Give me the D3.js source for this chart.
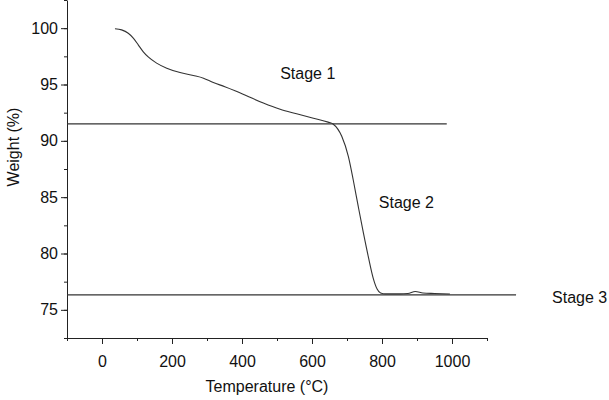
<!DOCTYPE html>
<html>
<head>
<meta charset="utf-8">
<script src="https://cdn.jsdelivr.net/npm/d3@7"></script>
<style>
  body { margin: 0; background: #fff; }
  text { font-family: "Liberation Sans", Arial, sans-serif; }
</style>
</head>
<body>
<div id="tga-chart"></div>
<script>
// TGA curve
const temperature = [37, 56, 75, 90, 104, 118, 132, 156, 185, 223, 261, 290, 318, 351, 380, 413, 461, 509, 556, 604, 646, 660, 685, 704, 718, 732, 747, 761, 775, 786, 796, 810, 850, 874, 895, 917, 950, 994];
const weight = [99.95, 99.85, 99.55, 99.1, 98.5, 97.9, 97.45, 96.9, 96.45, 96.06, 95.8, 95.56, 95.17, 94.81, 94.45, 94.0, 93.35, 92.8, 92.4, 92.0, 91.66, 91.5, 90.4, 88.6, 86.5, 84.2, 81.8, 79.7, 77.8, 76.85, 76.5, 76.42, 76.42, 76.45, 76.63, 76.5, 76.45, 76.4];

const xTicks = [0, 200, 400, 600, 800, 1000];
const yTicks = [75, 80, 85, 90, 95, 100];

// stage boundary lines: [weight, start temp, end temp]
const stageLines = [
    [91.5, -100, 985],
    [76.33, -100, 1183]
];
const stageLabels = ["Stage 1", "Stage 2", "Stage 3"];
const stageLabelTemp = [509, 791, 1286];
const stageLabelWeight = [95.5, 84.05, 75.6];

const createTgaChart = () => {
    const margin = { top: 0, right: 122, bottom: 62, left: 67 };
    const width = 609 - margin.left - margin.right;
    const height = 400 - margin.top - margin.bottom;

    const svg = d3.select("#tga-chart")
                  .append("svg")
                  .attr("width", width + margin.left + margin.right)
                  .attr("height", height + margin.top + margin.bottom)
                .append("g")
                  .attr("transform", `translate(${margin.left},${margin.top})`);

    const x = d3.scaleLinear()
                .domain([-100, 1100])
                .range([0, width]);

    const y = d3.scaleLinear()
                .domain([72.5, 102.5])
                .range([height, 0]);

    // minor ticks
    svg.append("g")
        .attr("transform", `translate(0,${height})`)
        .call(d3.axisBottom(x).tickValues(d3.range(-100, 1101, 100)).tickSize(3).tickFormat(""))
        .call(g => g.select(".domain").remove());

    svg.append("g")
        .call(d3.axisLeft(y).tickValues(d3.range(72.5, 102.6, 2.5)).tickSize(3).tickFormat(""))
        .call(g => g.select(".domain").remove());

    // major axes
    svg.append("g")
        .attr("transform", `translate(0,${height})`)
        .call(d3.axisBottom(x).tickValues(xTicks).tickSize(6).tickSizeOuter(0).tickPadding(12).tickFormat(d3.format("d")))
        .selectAll("text")
        .style("font-size", "16px")
        .style("font-family", "Liberation Sans, Arial, sans-serif")
        .attr("fill", "#111");

    svg.append("g")
        .call(d3.axisLeft(y).tickValues(yTicks).tickSize(6).tickSizeOuter(0).tickPadding(3))
        .selectAll("text")
        .style("font-size", "16px")
        .style("font-family", "Liberation Sans, Arial, sans-serif")
        .attr("fill", "#111");

    svg.selectAll(".domain").attr("stroke", "#222");
    svg.selectAll(".tick line").attr("stroke", "#222");

    // stage boundary lines
    svg.selectAll(".stage-line")
        .data(stageLines)
        .enter().append("line")
        .attr("class", "stage-line")
        .attr("x1", d => x(d[1]))
        .attr("x2", d => x(d[2]))
        .attr("y1", d => y(d[0]))
        .attr("y2", d => y(d[0]))
        .attr("stroke", "#333")
        .attr("stroke-width", 1.2);

    const points = temperature.map((t, i) => [t, weight[i]]);

    const line = d3.line()
                   .x(d => x(d[0]))
                   .y(d => y(d[1]))
                   .curve(d3.curveMonotoneX);

    svg.append("path")
        .datum(points)
        .attr("d", line)
        .style("stroke", "#333")
        .style("stroke-width", 1.1)
        .style("fill", "none");

    svg.selectAll(".stage-label")
        .data(stageLabels)
        .enter().append("text")
        .attr("class", "stage-label")
        .attr("x", (d, i) => x(stageLabelTemp[i]))
        .attr("y", (d, i) => y(stageLabelWeight[i]))
        .style("font-size", "16px")
        .attr("fill", "#111")
        .text(d => d);

    svg.append("text")
        .attr("x", width / 2 - 10)
        .attr("y", height + 54)
        .attr("text-anchor", "middle")
        .style("font-size", "16px")
        .attr("fill", "#111")
        .text("Temperature (°C)");

    svg.append("text")
        .attr("transform", "rotate(-90)")
        .attr("x", -147)
        .attr("y", -48)
        .attr("text-anchor", "middle")
        .style("font-size", "16px")
        .attr("fill", "#111")
        .text("Weight (%)");
};

createTgaChart();
</script>
</body>
</html>
